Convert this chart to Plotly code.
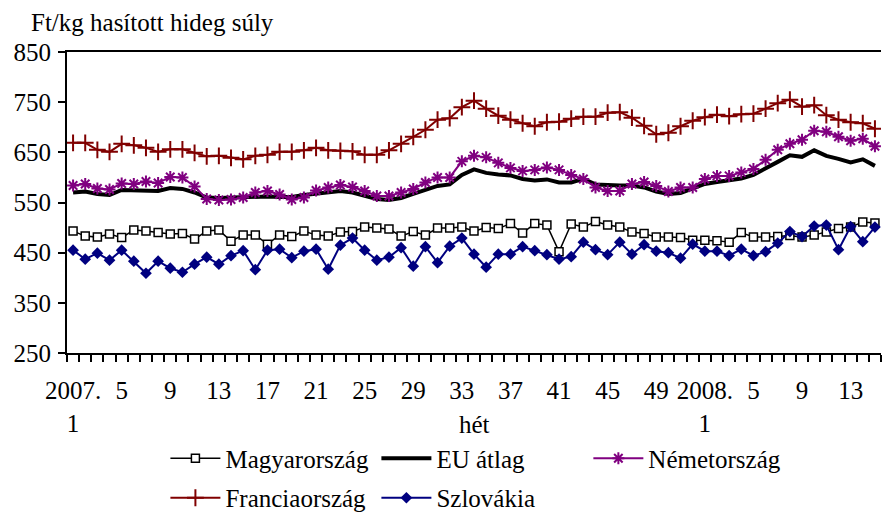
import plotly.graph_objects as go

years = [2007] * 52 + [2008] * 15
weeks = list(range(1, 53)) + list(range(1, 16))
categories = [f"{y}.{w}" for y, w in zip(years, weeks)]

magyarorszag = [493, 483, 481, 487, 480, 495, 493, 490, 487, 488, 477, 493, 495, 473, 485, 485, 467,
                485, 482, 493, 485, 483, 491, 492, 501, 499, 497, 483, 492, 485, 499, 499,
                501, 493, 500, 498, 508, 489, 508, 505, 452, 507, 501, 512, 505, 501, 491, 488, 481, 481,
                480, 475, 475, 474, 471, 490, 481, 481, 482, 484, 481, 485, 491, 498, 501, 511, 509]
eu_atlag = [570, 572, 567, 565, 575, 575, 575, 573, 579, 577, 570, 560, 559, 560, 560, 561, 562,
            561, 561, 565, 567, 570, 573, 570, 563, 557, 555, 559, 567, 575, 583, 586,
            605, 616, 609, 606, 604, 597, 594, 596, 590, 590, 597, 586, 584, 584, 584, 580, 572, 567,
            569, 577, 587, 591, 595, 598, 605, 619, 631, 644, 641, 654, 643, 637, 630, 636, 623]
nemetorszag = [584, 587, 578, 576, 588, 587, 592, 589, 601, 600, 582, 557, 555, 556, 560, 570, 573,
               566, 556, 560, 574, 580, 585, 581, 573, 563, 563, 570, 577, 590, 600, 600,
               632, 643, 640, 629, 619, 613, 615, 620, 615, 605, 597, 580, 573, 573, 587, 591, 583, 572,
               580, 580, 597, 603, 603, 610, 617, 635, 655, 667, 675, 693, 691, 681, 673, 677, 662]
franciaorszag = [669, 669, 655, 651, 667, 664, 659, 651, 656, 656, 649, 642, 643, 639, 636, 643, 645,
                 651, 651, 654, 659, 654, 653, 652, 645, 645, 654, 667, 681, 695, 715, 718,
                 740, 753, 737, 723, 715, 708, 702, 710, 711, 717, 721, 721, 729, 730, 719, 703, 686, 689,
                 702, 713, 720, 725, 722, 726, 727, 737, 748, 755, 741, 744, 724, 715, 710, 708, 697]
szlovakia = [455, 437, 449, 435, 455, 433, 409, 433, 419, 411, 427, 441, 427, 444, 454, 416, 455,
             457, 440, 453, 457, 417, 465, 479, 455, 435, 441, 460, 423, 462, 430, 463,
             479, 447, 421, 447, 447, 462, 454, 446, 437, 442, 471, 456, 446, 471, 447, 466, 453, 450,
             439, 467, 453, 453, 444, 457, 444, 452, 469, 492, 482, 503, 505, 456, 502, 472, 501]

tick_text = []
for i, (y, w) in enumerate(zip(years, weeks)):
    if i % 4 == 0:
        tick_text.append(f"{y}.<br>{w}" if w == 1 else str(w))
    else:
        tick_text.append("")

FONT = "Liberation Serif"
FS = 25

fig = go.Figure()
fig.add_trace(go.Scatter(
    x=categories, y=magyarorszag, name="Magyarország", mode="lines+markers", legend="legend",
    line=dict(color="black", width=1.5),
    marker=dict(symbol="square", size=8, color="white", line=dict(color="black", width=1.5))))
fig.add_trace(go.Scatter(
    x=categories, y=eu_atlag, name="EU átlag", mode="lines", legend="legend2",
    line=dict(color="black", width=4)))
fig.add_trace(go.Scatter(
    x=categories, y=nemetorszag, name="Németország", mode="lines+markers", legend="legend3",
    line=dict(color="#800080", width=2),
    marker=dict(symbol="asterisk-open", size=10, color="#800080", line=dict(color="#800080", width=2))))
fig.add_trace(go.Scatter(
    x=categories, y=franciaorszag, name="Franciaország", mode="lines+markers", legend="legend4",
    line=dict(color="#800000", width=2),
    marker=dict(symbol="cross-thin-open", size=12, color="#800000", line=dict(color="#800000", width=2))))
fig.add_trace(go.Scatter(
    x=categories, y=szlovakia, name="Szlovákia", mode="lines+markers", legend="legend5",
    line=dict(color="#000080", width=2),
    marker=dict(symbol="diamond", size=9, color="#000080")))

legend_common = dict(orientation="h", xanchor="left", yanchor="middle", itemwidth=50,
                     font=dict(family=FONT, size=FS, color="black"),
                     bgcolor="rgba(0,0,0,0)")
row1, row2 = -0.3505, -0.4817
col1, col2, col3 = 0.1209, 0.3801, 0.6405

fig.update_layout(
    width=883, height=512,
    margin=dict(l=67, r=2, t=52, b=159, autoexpand=False),
    paper_bgcolor="white", plot_bgcolor="white",
    font=dict(family=FONT, size=FS, color="black"),
    showlegend=True,
    legend=dict(x=col1, y=row1, **legend_common),
    legend2=dict(x=col2, y=row1, **legend_common),
    legend3=dict(x=col3, y=row1, **legend_common),
    legend4=dict(x=col1, y=row2, **legend_common),
    legend5=dict(x=col2, y=row2, **legend_common),
    xaxis=dict(type="category", range=[-0.5, 66.5], tickmode="array", tickvals=categories,
               ticktext=tick_text, tickson="boundaries", ticks="outside", ticklen=7,
               tickwidth=1.5, tickcolor="black", ticklabelstandoff=14, automargin=False,
               showline=True, linecolor="black", linewidth=2, mirror=True,
               showgrid=False, zeroline=False, tickangle=0,
               tickfont=dict(family=FONT, size=FS, color="black")),
    yaxis=dict(range=[250, 850], tickmode="linear", tick0=250, dtick=100,
               ticks="outside", ticklen=7, tickwidth=1.5, tickcolor="black",
               ticklabelstandoff=2, automargin=False,
               showline=True, linecolor="black", linewidth=2,
               showgrid=False, zeroline=False,
               tickfont=dict(family=FONT, size=FS, color="black")),
    annotations=[
        dict(text="Ft/kg hasított hideg súly", xref="paper", yref="paper",
             x=-0.047, y=1.098, xanchor="left", yanchor="middle", showarrow=False,
             font=dict(family=FONT, size=FS, color="black")),
        dict(text="hét", xref="paper", yref="paper", x=0.5, y=-0.236,
             xanchor="center", yanchor="middle", showarrow=False,
             font=dict(family=FONT, size=FS, color="black")),
    ],
)

fig.write_html("out.html", config={"displayModeBar": False},
               post_script="document.body.style.margin='0';")
